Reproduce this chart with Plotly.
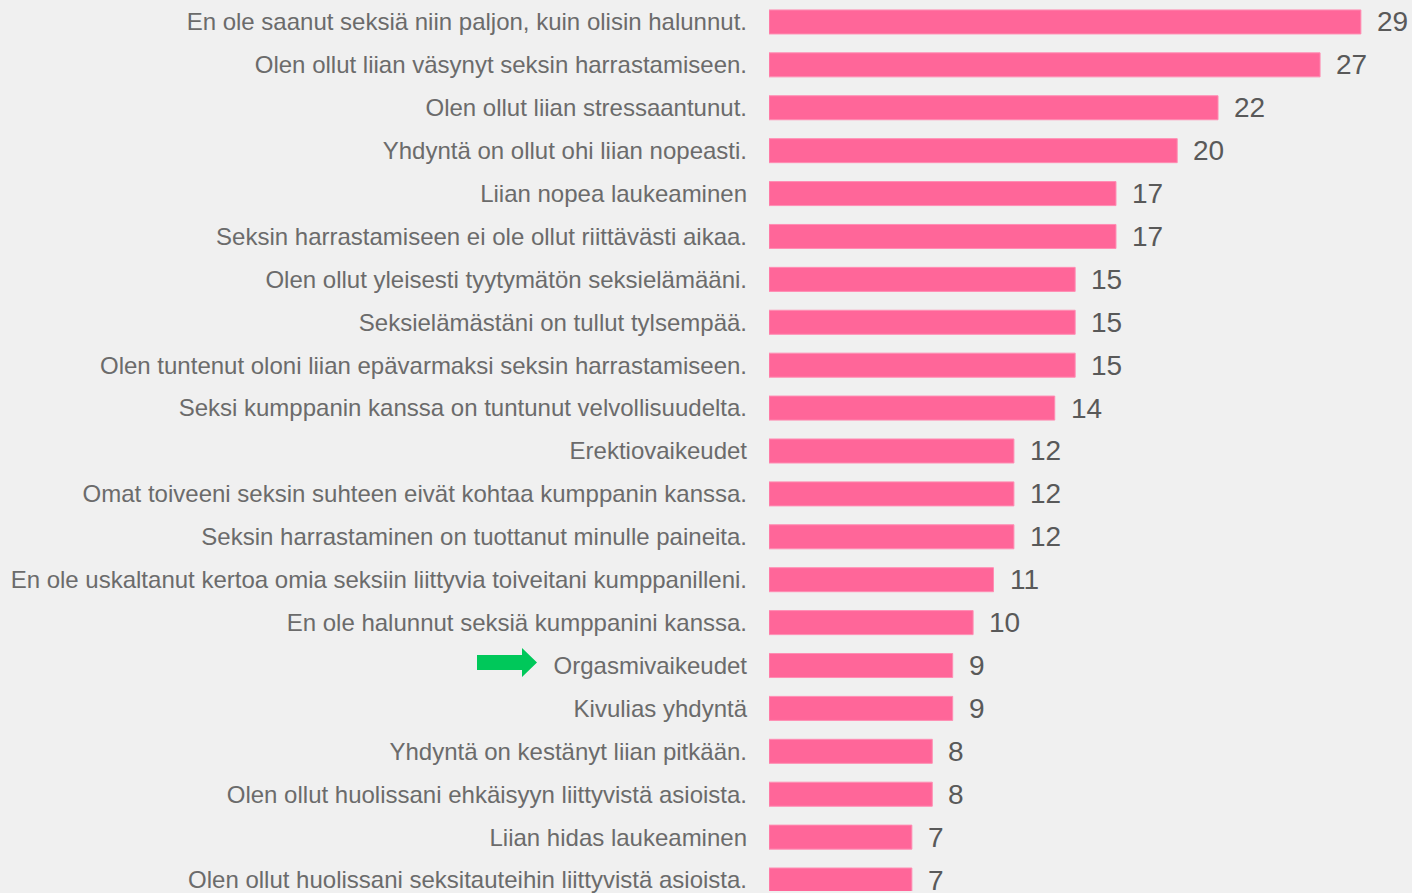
import plotly.graph_objects as go

categories = [
    "En ole saanut seksiä niin paljon, kuin olisin halunnut.",
    "Olen ollut liian väsynyt seksin harrastamiseen.",
    "Olen ollut liian stressaantunut.",
    "Yhdyntä on ollut ohi liian nopeasti.",
    "Liian nopea laukeaminen",
    "Seksin harrastamiseen ei ole ollut riittävästi aikaa.",
    "Olen ollut yleisesti tyytymätön seksielämääni.",
    "Seksielämästäni on tullut tylsempää.",
    "Olen tuntenut oloni liian epävarmaksi seksin harrastamiseen.",
    "Seksi kumppanin kanssa on tuntunut velvollisuudelta.",
    "Erektiovaikeudet",
    "Omat toiveeni seksin suhteen eivät kohtaa kumppanin kanssa.",
    "Seksin harrastaminen on tuottanut minulle paineita.",
    "En ole uskaltanut kertoa omia seksiin liittyvia toiveitani kumppanilleni.",
    "En ole halunnut seksiä kumppanini kanssa.",
    "Orgasmivaikeudet",
    "Kivulias yhdyntä",
    "Yhdyntä on kestänyt liian pitkään.",
    "Olen ollut huolissani ehkäisyyn liittyvistä asioista.",
    "Liian hidas laukeaminen",
    "Olen ollut huolissani seksitauteihin liittyvistä asioista.",
]
values = [29, 27, 22, 20, 17, 17, 15, 15, 15, 14, 12, 12, 12, 11, 10, 9, 9, 8, 8, 7, 7]
highlighted = "Orgasmivaikeudet"

positions = list(range(len(categories)))

fig = go.Figure()
fig.add_trace(go.Bar(
    x=values,
    y=positions,
    orientation="h",
    width=0.56,
    marker=dict(color="#FF6699", line=dict(color="#FF8DB3", width=1)),
    hoverinfo="x+text",
    hovertext=categories,
))

annotations = []
for pos, v in zip(positions, values):
    annotations.append(dict(
        x=v, y=pos, xref="x", yref="y", text=str(v), showarrow=False,
        xanchor="left", yanchor="middle", xshift=14, yshift=0,
        font=dict(family="Liberation Sans, Arial, sans-serif", size=28, color="#595959"),
    ))

hi = categories.index(highlighted)
# arrow in paper-x / data-y coordinates
x0 = (477 - 769) / 643
xb = (522 - 769) / 643
x1 = (537 - 769) / 643
bh = 7.5 / 43
hh = 14.5 / 43
yc = hi - 3 / 43
path = (f"M {x0},{yc - bh} L {xb},{yc - bh} L {xb},{yc - hh} L {x1},{yc} "
        f"L {xb},{yc + hh} L {xb},{yc + bh} L {x0},{yc + bh} Z")

top = -22 / 43
bottom = top + 893 / 43

fig.update_layout(
    width=1412, height=893,
    margin=dict(l=769, r=0, t=0, b=0),
    paper_bgcolor="#F0F0F0",
    plot_bgcolor="rgba(0,0,0,0)",
    showlegend=False,
    annotations=annotations,
    shapes=[dict(type="path", xref="paper", yref="y", path=path,
                 fillcolor="#00C85A", line=dict(width=0))],
    xaxis=dict(range=[0, 643 / 20.41], visible=False, fixedrange=True),
    yaxis=dict(
        range=[bottom, top],
        autorange=False,
        tickmode="array", tickvals=positions, ticktext=categories,
        showgrid=False, zeroline=False, showline=False, ticks="",
        ticklabelstandoff=21,
        ticklabeloverflow="allow",
        tickfont=dict(family="Liberation Sans, Arial, sans-serif", size=24, color="#6B6B6B"),
        fixedrange=True,
    ),
)

fig.write_html(
    "out.html",
    config={"displayModeBar": False},
    post_script="document.body.style.margin='0';document.body.style.overflow='hidden';"
                "document.documentElement.style.overflow='hidden';",
)
